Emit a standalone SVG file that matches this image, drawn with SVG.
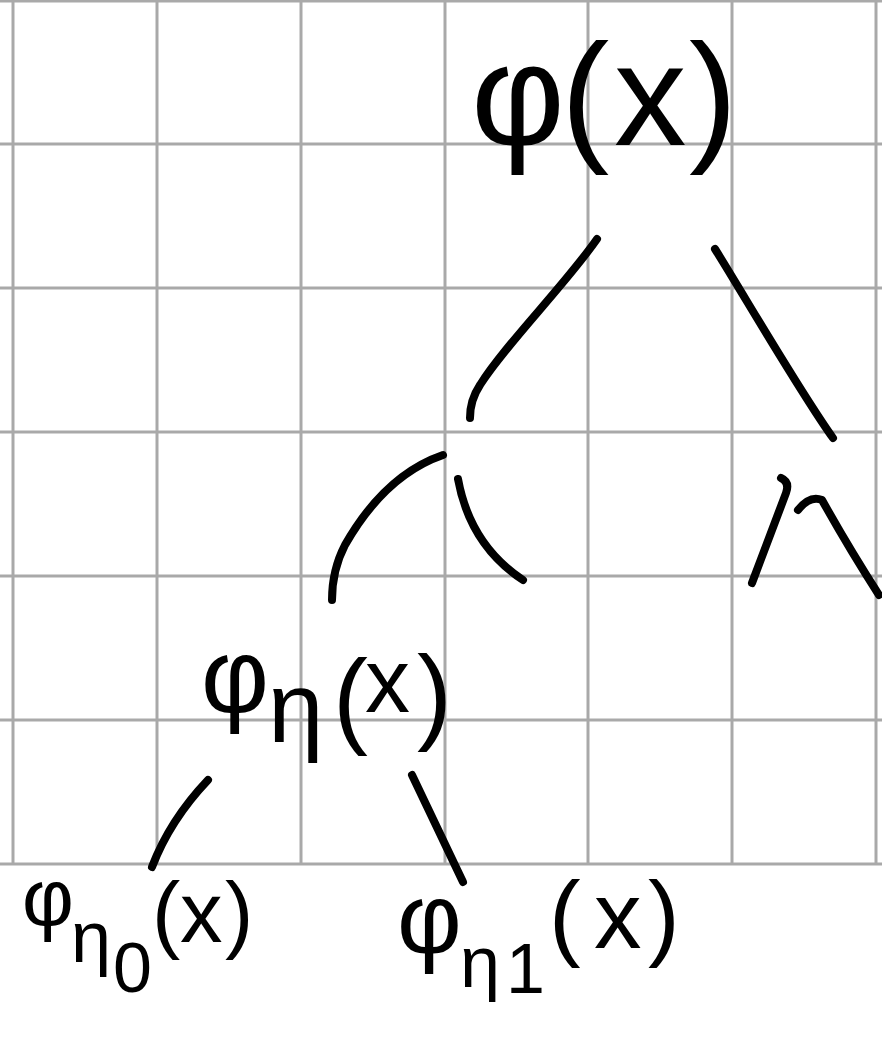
<svg xmlns="http://www.w3.org/2000/svg" width="882" height="1055" viewBox="0 0 882 1055">
<style>
.grid line{stroke:#a9a9a9;stroke-width:3}
.ink{fill:none;stroke:#000;stroke-width:8;stroke-linecap:round;stroke-linejoin:round}
.lbl{font-family:"Liberation Sans","DejaVu Sans",sans-serif;fill:#000}
</style>
<rect width="882" height="1055" fill="#fff"/>
<g class="grid">
<line x1="13" y1="0" x2="13" y2="864"/>
<line x1="157" y1="0" x2="157" y2="864"/>
<line x1="301" y1="0" x2="301" y2="864"/>
<line x1="445" y1="0" x2="445" y2="864"/>
<line x1="588" y1="0" x2="588" y2="864"/>
<line x1="732" y1="0" x2="732" y2="864"/>
<line x1="876" y1="0" x2="876" y2="864"/>
<line x1="0" y1="1" x2="882" y2="1"/>
<line x1="0" y1="144" x2="882" y2="144"/>
<line x1="0" y1="288" x2="882" y2="288"/>
<line x1="0" y1="432" x2="882" y2="432"/>
<line x1="0" y1="576" x2="882" y2="576"/>
<line x1="0" y1="720" x2="882" y2="720"/>
<line x1="0" y1="864" x2="882" y2="864"/>
</g>
<g id="connectors" class="ink">
<path d="M597,239 C565,285 505,345 480,385 Q470,400 470,418"/>
<path d="M715,249 C742,292 800,392 833,438"/>
<path d="M443,455 Q385,475 345,545 Q332,570 332,600"/>
<path d="M458,479 Q470,545 523,580"/>
<path d="M781,478 Q790,482 786,493 L752,583"/>
<path d="M798,510 Q810,495 822,500 Q850,550 879,595"/>
<path d="M208,780 Q170,820 152,867"/>
<path d="M412,775 L463,882"/>
</g>
<g id="node-root">
<text class="lbl" font-size="145" y="145"><tspan x="471">φ</tspan><tspan x="561">(</tspan><tspan x="614">x</tspan><tspan x="689">)</tspan></text>
</g>
<g id="node-eta">
<text class="lbl" font-size="105" y="712"><tspan x="201">φ</tspan><tspan x="268" y="742" font-size="100">η</tspan><tspan x="333" y="734">(</tspan><tspan x="365" y="712" font-size="90">x</tspan><tspan x="417" y="730">)</tspan></text>
</g>
<g id="node-eta0">
<text class="lbl" font-size="85" y="925"><tspan x="22" font-size="80">φ</tspan><tspan x="71" y="962" font-size="72">η</tspan><tspan x="113" y="992" font-size="70">0</tspan><tspan x="152" y="942">(</tspan><tspan x="180">x</tspan><tspan x="225">)</tspan></text>
</g>
<g id="node-eta1">
<text class="lbl" font-size="95" y="953"><tspan x="397" font-size="100">φ</tspan><tspan x="460" y="987" font-size="72">η</tspan><tspan x="506" y="993" font-size="70">1</tspan><tspan x="549" y="948">(</tspan><tspan x="594">x</tspan><tspan x="648">)</tspan></text>
</g>
</svg>
